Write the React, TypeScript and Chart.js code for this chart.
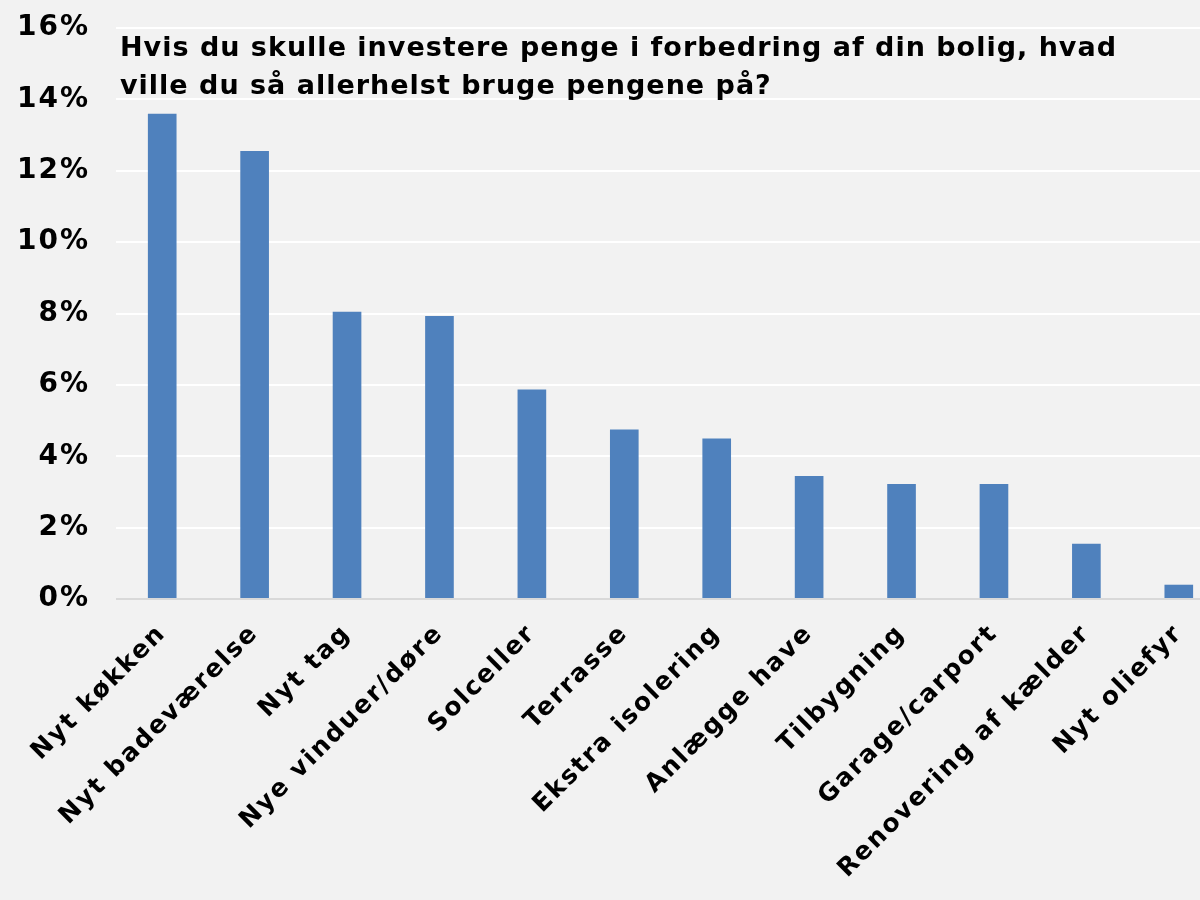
import React, { useEffect, useRef } from "react";
import { Chart, registerables } from "chart.js";

Chart.register(...registerables);

const titleLines = [
  "Hvis du skulle investere penge i forbedring af din bolig, hvad",
  "ville du så allerhelst bruge pengene på?",
];

const categories = [
  "Nyt køkken",
  "Nyt badeværelse",
  "Nyt tag",
  "Nye vinduer/døre",
  "Solceller",
  "Terrasse",
  "Ekstra isolering",
  "Anlægge have",
  "Tilbygning",
  "Garage/carport",
  "Renovering af kælder",
  "Nyt oliefyr",
];

const values = [13.6, 12.55, 8.05, 7.93, 5.87, 4.75, 4.5, 3.45, 3.22, 3.22, 1.55, 0.4];

const yMin = 0;
const yMax = 16;
const yStep = 2;

const FONT = "'DejaVu Sans', Verdana, sans-serif";

const spacingPlugin = {
  id: "spacing",
  beforeLayout(chart: any) {
    chart.ctx.letterSpacing = "2px";
  },
  beforeDraw(chart: any) {
    chart.ctx.letterSpacing = "2px";
  },
};

export default function App() {
  const canvasRef = useRef<HTMLCanvasElement | null>(null);

  useEffect(() => {
    if (!canvasRef.current) return;
    const chart = new Chart(canvasRef.current, {
      type: "bar",
      data: {
        labels: categories,
        datasets: [
          {
            data: values,
            backgroundColor: "#4f81bd",
            borderWidth: 0,
            categoryPercentage: 1,
            barPercentage: 0.31,
          },
        ],
      },
      plugins: [spacingPlugin],
      options: {
        animation: false,
        responsive: true,
        maintainAspectRatio: false,
        layout: { padding: { top: 28, right: 0, left: 0, bottom: 0 } },
        plugins: {
          legend: { display: false },
          tooltip: { enabled: false },
          title: { display: false },
        },
        scales: {
          x: {
            grid: { display: false },
            border: { display: false },
            ticks: {
              color: "#000",
              font: { family: FONT, size: 25, weight: "bold" },
              minRotation: 45,
              maxRotation: 45,
              padding: 12,
            },
            afterFit: (scale: any) => {
              scale.height = 301;
            },
          },
          y: {
            min: yMin,
            max: yMax,
            border: { display: false },
            grid: {
              drawTicks: false,
              lineWidth: 2,
              color: (ctx: any) => (ctx.tick && ctx.tick.value === 0 ? "#d9d9d9" : "#ffffff"),
            },
            ticks: {
              stepSize: yStep,
              color: "#000",
              padding: 26,
              font: { family: FONT, size: 28, weight: "bold" },
              callback: (v: any) => `${v}%`,
            },
            afterFit: (scale: any) => {
              scale.width = 116;
              scale.paddingTop = 0;
              scale.paddingBottom = 0;
            },
          },
        },
      },
    });
    return () => chart.destroy();
  }, []);

  return (
    <div
      style={{
        position: "fixed",
        left: 0,
        top: 0,
        width: 1200,
        height: 900,
        overflow: "hidden",
        background: "#f2f2f2",
      }}
    >
      <div style={{ position: "absolute", left: 0, top: 0, width: 1225, height: 900 }}>
        <canvas ref={canvasRef} />
      </div>
      <div
        style={{
          position: "absolute",
          left: 120,
          top: 28,
          fontFamily: FONT,
          fontWeight: "bold",
          fontSize: 27,
          lineHeight: "38px",
          letterSpacing: "1px",
          color: "#000",
          whiteSpace: "nowrap",
        }}
      >
        {titleLines.map((l, i) => (
          <div key={i}>{l}</div>
        ))}
      </div>
    </div>
  );
}
